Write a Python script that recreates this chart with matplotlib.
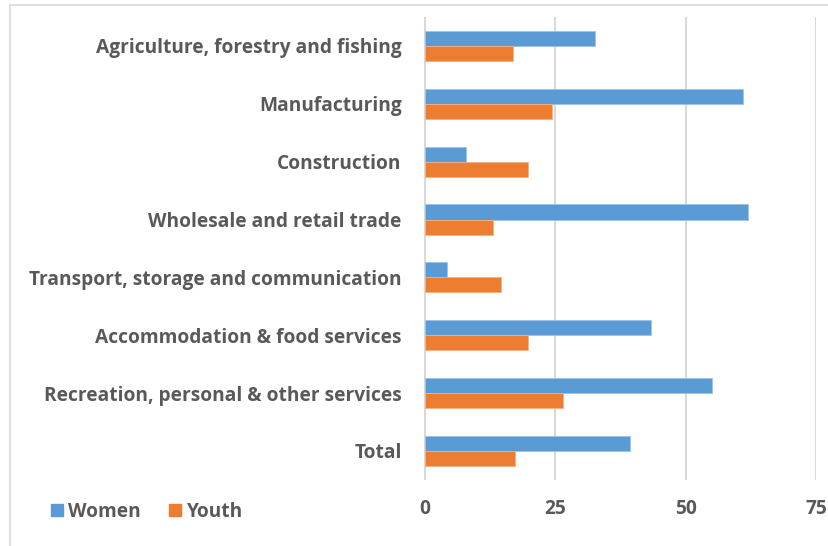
import matplotlib.pyplot as plt
import numpy as np
from matplotlib.patches import Patch, Rectangle

# Share of employment by sector (%)
sectors = [
    "Agriculture, forestry and fishing",
    "Manufacturing",
    "Construction",
    "Wholesale and retail trade",
    "Transport, storage and communication",
    "Accommodation & food services",
    "Recreation, personal & other services",
    "Total",
]
women = [32.5, 60.9, 7.8, 61.9, 4.3, 43.4, 55.0, 39.3]
youth = [16.8, 24.3, 19.7, 13.0, 14.6, 19.8, 26.5, 17.2]
xticks = [0, 25, 50, 75]

BLUE = "#5b9bd5"
ORANGE = "#ed7d31"
GRID = "#d9d9d9"
TEXT = "#595959"

plt.rcParams["font.family"] = ["Open Sans", "DejaVu Sans"]
FS = 13.8

fig = plt.figure(figsize=(8.29, 5.46), dpi=100)
ax = fig.add_axes([0.5115, 0.121, 0.9845 - 0.5115, 0.9689 - 0.121])

y = np.arange(len(sectors))
h = 0.26
ax.barh(y - h / 2, women, height=h, color=BLUE, edgecolor="#9dc3e6", linewidth=0.6, zorder=3)
ax.barh(y + h / 2, youth, height=h, color=ORANGE, edgecolor="#f4b183", linewidth=0.6, zorder=3)

ax.set_ylim(len(sectors) - 0.5, -0.5)
ax.set_xlim(-0.2, 75)
ax.set_xticks(xticks)
ax.set_xticklabels([str(v) for v in xticks], fontweight="bold")
ax.set_yticks(y)
ax.set_yticklabels(sectors, fontweight="bold")
ax.xaxis.grid(True, color=GRID, linewidth=1.5, zorder=0)
ax.axvline(0, color=GRID, linewidth=1.5, zorder=1)
for s in ax.spines.values():
    s.set_visible(False)
ax.tick_params(axis="both", length=0, colors=TEXT, labelsize=FS)
ax.tick_params(axis="x", pad=14)
ax.tick_params(axis="y", pad=16)

# chart frame
fig.patches.append(Rectangle((10 / 829, -0.05), 1.2, 1 - 5 / 546 + 0.05,
                             transform=fig.transFigure, fill=False,
                             edgecolor=GRID, linewidth=1.2))

handles = [Patch(color=BLUE, label="Women"), Patch(color=ORANGE, label="Youth")]
leg = fig.legend(handles=handles, loc="center left", bbox_to_anchor=(0.041, 1 - 512 / 546),
                 ncol=2, frameon=False, handlelength=0.6, handleheight=0.6,
                 handletextpad=0.3, columnspacing=1.45,
                 prop={"size": FS, "weight": "bold"})
for t in leg.get_texts():
    t.set_color(TEXT)

fig.savefig("out.png", dpi=100)
